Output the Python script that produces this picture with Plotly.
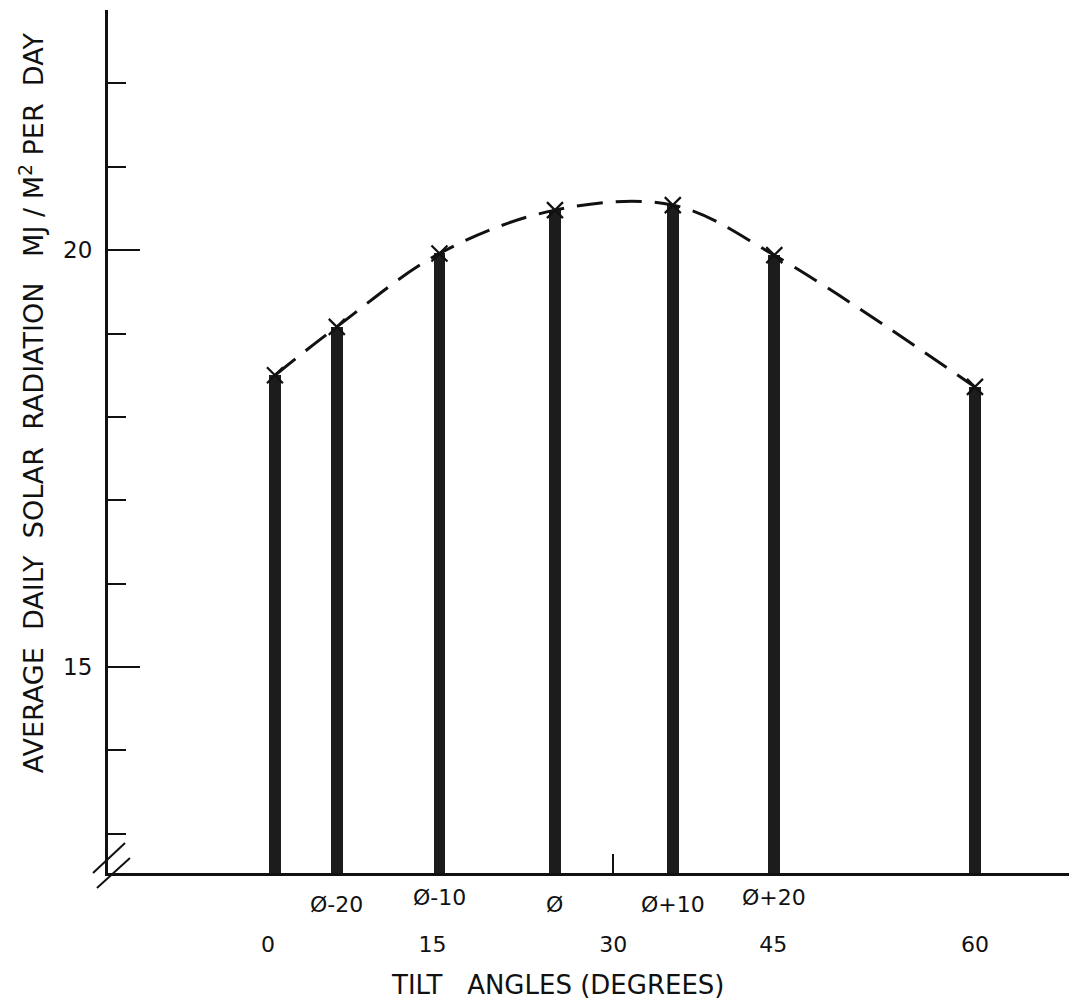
import plotly.graph_objects as go

# ---- data ----
tilt_deg = [0, 5.3, 14.1, 24.0, 34.1, 42.8, 60]            # bar positions (degrees)
radiation = [18.5, 19.08, 19.96, 20.48, 20.54, 19.94, 18.36]  # MJ/m^2 per day
phi_labels = ["", "Ø-20", "Ø-10", "Ø", "Ø+10", "Ø+20", ""]
phi_label_raise = [0, 0, 1, 0, 0, 1, 0]                      # hand-lettered label rows

x_tick_pos = [-0.6, 13.5, 29.0, 42.7, 60]
x_tick_text = ["0", "15", "30", "45", "60"]
y_major_ticks = [15, 20]

Y_MIN, Y_MAX = 12.53, 22.88
X_MIN, X_MAX = -14.31, 68.66

FONT = "DejaVu Sans, Liberation Sans, Arial, sans-serif"
INK = "#111111"

fig = go.Figure()

fig.add_trace(go.Bar(
    x=tilt_deg, y=radiation, width=1.0,
    marker=dict(color="#1c1c1c", line=dict(width=0)),
    showlegend=False, hoverinfo="skip",
))

fig.add_trace(go.Scatter(
    x=tilt_deg, y=radiation, mode="lines",
    line=dict(color=INK, width=3, dash="26px,13px", shape="spline", smoothing=1.0),
    showlegend=False,
))

fig.add_trace(go.Scatter(
    x=tilt_deg, y=radiation, mode="markers",
    marker=dict(symbol="x-thin-open", size=16, color=INK, line=dict(color=INK, width=2.2)),
    showlegend=False,
))

# tick mark at 30 on a helper axis
fig.add_trace(go.Scatter(x=[None], y=[None], xaxis="x2", showlegend=False))

for xv, lab, up in zip(tilt_deg, phi_labels, phi_label_raise):
    if lab:
        fig.add_annotation(
            x=xv, xref="x", y=-0.037 + 0.009 * up, yref="paper",
            text=lab, showarrow=False, font=dict(family=FONT, size=22, color=INK),
            xanchor="center", yanchor="middle",
        )

fig.add_annotation(
    x=0.465, xref="paper", y=-0.130, yref="paper",
    text="TILT&nbsp;&nbsp;&nbsp;ANGLES (DEGREES)", showarrow=False,
    font=dict(family=FONT, size=26, color=INK), xanchor="center", yanchor="middle",
)

fig.add_annotation(
    x=-0.079, xref="paper", y=0.545, yref="paper", textangle=-90,
    text="AVERAGE&nbsp; DAILY&nbsp; SOLAR&nbsp; RADIATION&nbsp;&nbsp; MJ / M<sup>2</sup> PER&nbsp; DAY",
    showarrow=False, font=dict(family=FONT, size=27, color=INK),
    xanchor="center", yanchor="middle",
)

# axis break marks
fig.add_shape(type="line", xref="paper", yref="paper",
              x0=-0.0155, y0=0.0, x1=0.0176, y1=0.0348, line=dict(color=INK, width=2))
fig.add_shape(type="line", xref="paper", yref="paper",
              x0=-0.0114, y0=-0.0174, x1=0.0227, y1=0.0174, line=dict(color=INK, width=2))

fig.update_layout(
    width=1069, height=994,
    margin=dict(l=100, r=1, t=2, b=129),
    paper_bgcolor="white", plot_bgcolor="white",
    bargap=0,
    xaxis=dict(
        range=[X_MIN, X_MAX], showgrid=False, zeroline=False,
        showline=True, linecolor=INK, linewidth=3,
        tickmode="array", tickvals=x_tick_pos, ticktext=x_tick_text,
        ticks="", ticklabelstandoff=50,
        tickfont=dict(family=FONT, size=22, color=INK),
    ),
    xaxis2=dict(
        range=[X_MIN, X_MAX], overlaying="x", anchor="y", side="bottom",
        showgrid=False, zeroline=False, showline=False,
        tickmode="array", tickvals=[x_tick_pos[2]], ticks="inside",
        ticklen=19, tickwidth=2, tickcolor=INK, showticklabels=False,
    ),
    yaxis=dict(
        range=[Y_MIN, Y_MAX], showgrid=False, zeroline=False,
        showline=True, linecolor=INK, linewidth=3,
        tickmode="array", tickvals=y_major_ticks,
        ticks="inside", ticklen=32, tickwidth=2, tickcolor=INK,
        ticklabelstandoff=8,
        minor=dict(dtick=1, tick0=0, ticks="inside", ticklen=18, tickwidth=2, tickcolor=INK),
        tickfont=dict(family=FONT, size=23, color=INK),
    ),
)

fig.write_html("out.html")
